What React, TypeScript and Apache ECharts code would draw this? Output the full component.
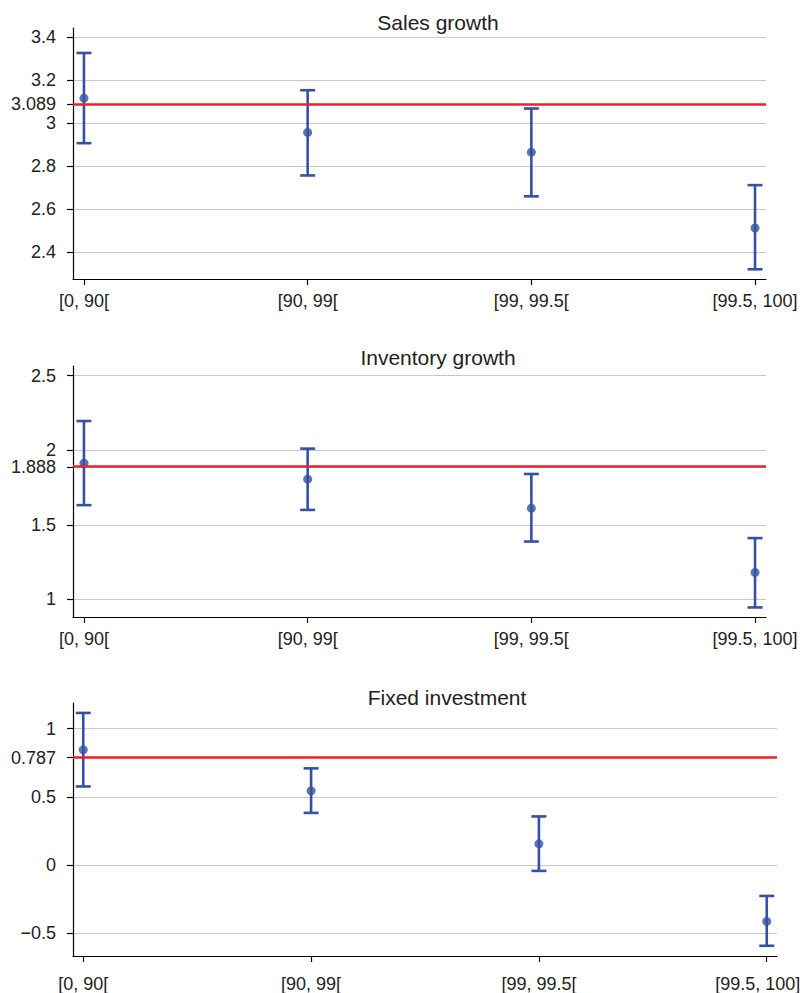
import React, { useEffect, useRef } from "react";
import * as echarts from "echarts";

const categories = ["[0, 90[", "[90, 99[", "[99, 99.5[", "[99.5, 100]"];

const salesMean = [3.116, 2.957, 2.865, 2.513];
const salesLow = [2.907, 2.757, 2.66, 2.321];
const salesHigh = [3.326, 3.153, 3.068, 2.712];
const salesRef = 3.089;
const salesTicks = [2.4, 2.6, 2.8, 3, 3.089, 3.2, 3.4];

const invMean = [1.913, 1.806, 1.612, 1.181];
const invLow = [1.632, 1.6, 1.388, 0.946];
const invHigh = [2.196, 2.011, 1.841, 1.411];
const invRef = 1.888;
const invTicks = [1, 1.5, 1.888, 2, 2.5];

const fixMean = [0.845, 0.544, 0.155, -0.415];
const fixLow = [0.576, 0.382, -0.044, -0.594];
const fixHigh = [1.116, 0.709, 0.356, -0.228];
const fixRef = 0.787;
const fixTicks = [-0.5, 0, 0.5, 0.787, 1];

const titles = ["Sales growth", "Inventory growth", "Fixed investment"];

const FONT = '"Liberation Sans", Arial, Helvetica, sans-serif';
const BLUE = "#3651a3";
const RED = "#ec2227";

const panels = [
  { mean: salesMean, low: salesLow, high: salesHigh, ref: salesRef, ticks: salesTicks, ymin: 2.276, ymax: 3.442, top: 28, height: 251, right: 38, xpad: 0.049, labelMargin: 13, shiftLast: false, titleX: 438, titleY: 22 },
  { mean: invMean, low: invLow, high: invHigh, ref: invRef, ticks: invTicks, ymin: 0.882, ymax: 2.565, top: 366, height: 251, right: 38, xpad: 0.049, labelMargin: 13, shiftLast: false, titleX: 438, titleY: 357 },
  { mean: fixMean, low: fixLow, high: fixHigh, ref: fixRef, ticks: fixTicks, ymin: -0.669, ymax: 1.189, top: 703, height: 253, right: 27, xpad: 0.045, labelMargin: 19, shiftLast: true, titleX: 447, titleY: 697 },
];

function fmtY(v: number): string {
  const s = String(Math.round(v * 1000) / 1000);
  return s.replace("-", "\u2212");
}

export default function App() {
  const ref = useRef<HTMLDivElement>(null);
  useEffect(() => {
    if (!ref.current) return;
    const chart = echarts.init(ref.current, undefined, { renderer: "svg" });
    const grid: any[] = [];
    const xAxis: any[] = [];
    const yAxis: any[] = [];
    const series: any[] = [];
    const graphic: any[] = [];
    panels.forEach((p, i) => {
      grid.push({ left: 73, right: p.right, top: p.top, height: p.height, containLabel: false, outerBoundsMode: "none" });
      xAxis.push({
        type: "value",
        gridIndex: i,
        min: -p.xpad,
        max: 3 + p.xpad,
        splitLine: { show: false },
        axisLine: { onZero: false, lineStyle: { color: "#000", width: 1.2 } },
        axisTick: { customValues: [0, 1, 2, 3], length: 6, lineStyle: { color: "#000", width: 1.2 } },
        axisLabel: {
          customValues: [0, 1, 2, 3],
          margin: p.labelMargin,
          color: "#222",
          fontSize: 18,
          fontFamily: FONT,
          formatter: (v: number) => {
            const k = Math.round(v);
            const t = categories[k] ?? "";
            return p.shiftLast && k === categories.length - 1 ? `{last|${t}}` : t;
          },
          rich: {
            last: { fontSize: 18, fontFamily: FONT, color: "#222", padding: [0, 18, 0, 0] },
          },
        },
      });
      yAxis.push({
        type: "value",
        gridIndex: i,
        min: p.ymin,
        max: p.ymax,
        axisLine: { show: true, onZero: false, lineStyle: { color: "#000", width: 1.2 } },
        axisTick: { show: true, customValues: p.ticks, length: 6, lineStyle: { color: "#000", width: 1.2 } },
        axisLabel: {
          customValues: p.ticks,
          margin: 17,
          color: "#222",
          fontSize: 18,
          lineHeight: 15,
          fontFamily: FONT,
          formatter: (v: number) => fmtY(v),
        },
        splitLine: { show: true, lineStyle: { color: "#c8c8c8", width: 1 } },
      });
      series.push({
        type: "scatter",
        xAxisIndex: i,
        yAxisIndex: i,
        z: 2,
        symbolSize: 9,
        itemStyle: { color: BLUE },
        data: p.mean.map((m, k) => [k, m]),
        markLine: {
          silent: true,
          symbol: ["none", "none"],
          label: { show: false },
          lineStyle: { color: RED, width: 2.6, type: "solid" },
          data: [{ yAxis: p.ref }],
        },
      });
      series.push({
        type: "custom",
        xAxisIndex: i,
        yAxisIndex: i,
        z: 3,
        encode: { x: 0, y: [1, 2] },
        data: p.low.map((l, k) => [k, l, p.high[k]]),
        renderItem: (params: any, api: any) => {
          const x = api.value(0);
          const lo = api.coord([x, api.value(1)]);
          const hi = api.coord([x, api.value(2)]);
          const hw = 7.5;
          const style = { stroke: BLUE, lineWidth: 2.6 };
          return {
            type: "group",
            children: [
              { type: "line", shape: { x1: hi[0], y1: hi[1], x2: lo[0], y2: lo[1] }, style },
              { type: "line", shape: { x1: hi[0] - hw, y1: hi[1], x2: hi[0] + hw, y2: hi[1] }, style },
              { type: "line", shape: { x1: lo[0] - hw, y1: lo[1], x2: lo[0] + hw, y2: lo[1] }, style },
            ],
          };
        },
      });
      graphic.push({
        type: "text",
        x: p.titleX,
        y: p.titleY,
        style: {
          text: titles[i],
          fill: "#222",
          font: `21px ${FONT}`,
          textAlign: "center",
          textVerticalAlign: "middle",
        },
      });
    });
    chart.setOption({
      animation: false,
      backgroundColor: "#fff",
      grid,
      xAxis,
      yAxis,
      series,
      graphic,
    });
    return () => chart.dispose();
  }, []);
  return (
    <div
      ref={ref}
      style={{ position: "absolute", left: 0, top: 0, width: 804, height: 993 }}
    />
  );
}
